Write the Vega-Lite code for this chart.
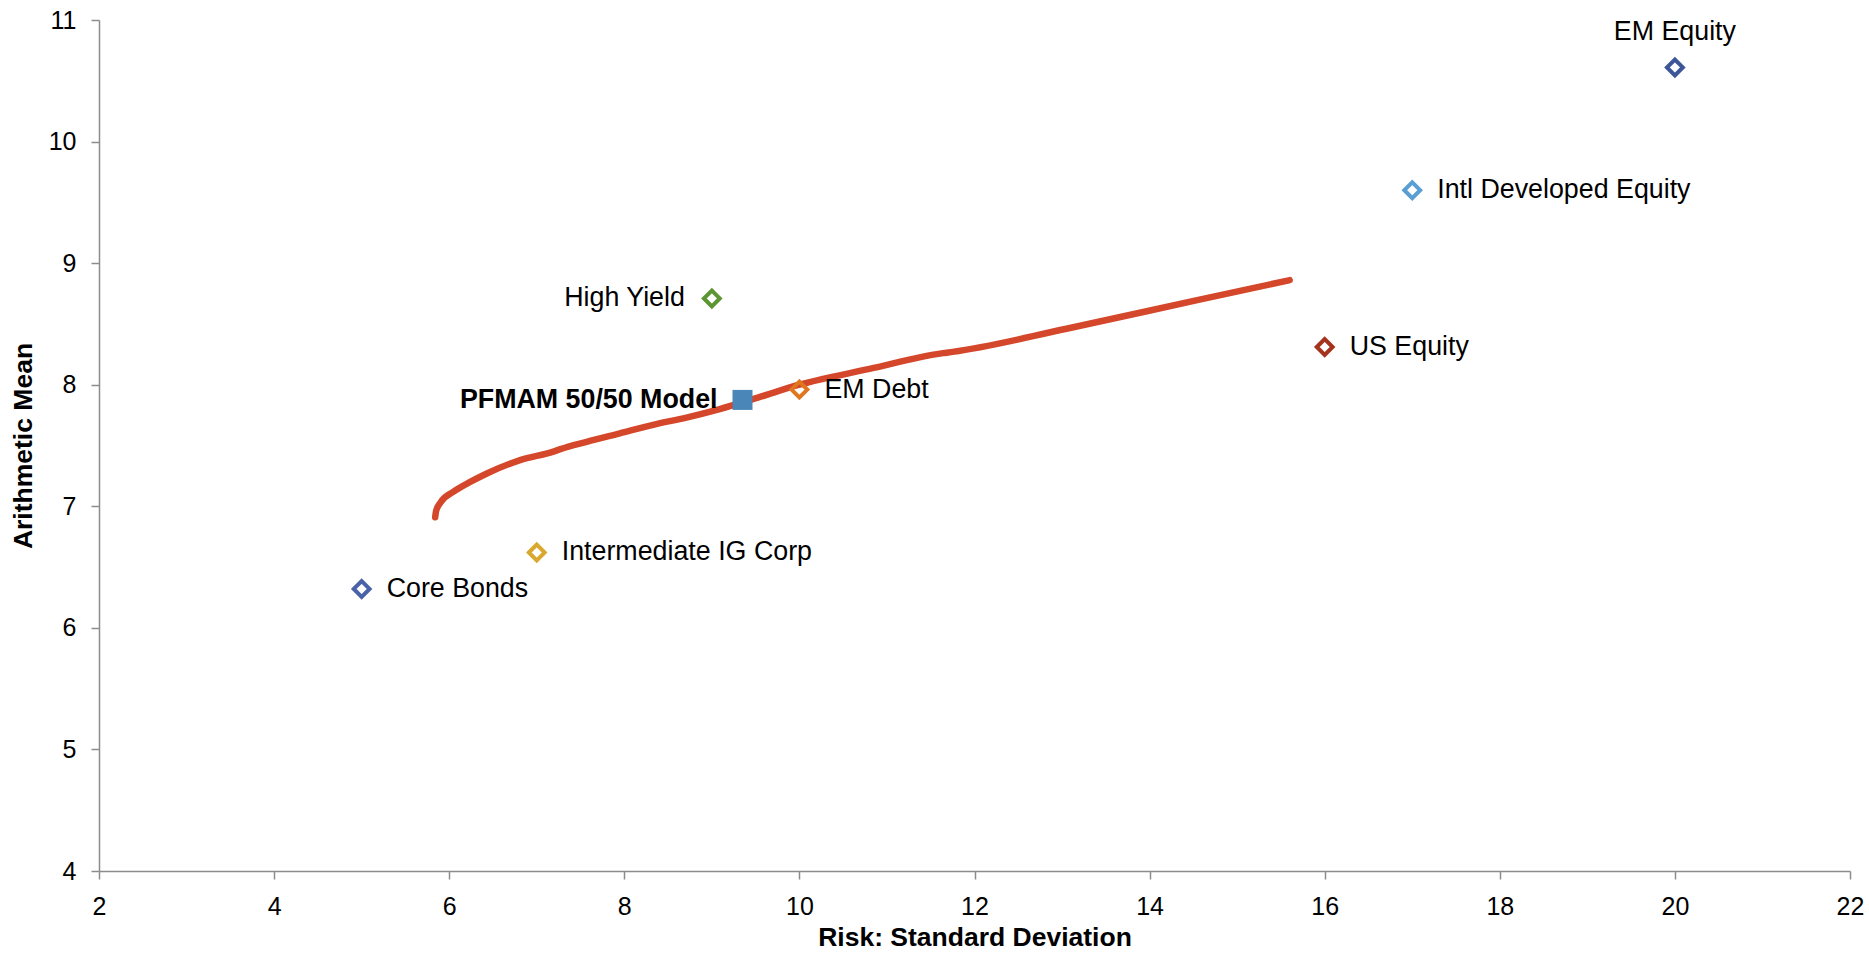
{
  "$schema": "https://vega.github.io/schema/vega-lite/v6.json",
  "width": 1751,
  "height": 851,
  "autosize": {"type": "none"},
  "padding": {"left": 99, "top": 20, "right": 19, "bottom": 82},
  "background": "white",
  "datasets": {
    "assets": [
      {"asset": "EM Equity", "risk": 20, "mean": 10.61},
      {"asset": "Intl Developed Equity", "risk": 17, "mean": 9.6},
      {"asset": "High Yield", "risk": 9, "mean": 8.71},
      {"asset": "US Equity", "risk": 16, "mean": 8.31},
      {"asset": "EM Debt", "risk": 10, "mean": 7.96},
      {"asset": "Intermediate IG Corp", "risk": 7, "mean": 6.62},
      {"asset": "Core Bonds", "risk": 5, "mean": 6.32}
    ],
    "model": [
      {"asset": "PFMAM 50/50 Model", "risk": 9.35, "mean": 7.875}
    ],
    "frontier": [
      {"risk": 5.84, "mean": 6.91},
      {"risk": 5.85, "mean": 6.96},
      {"risk": 5.9, "mean": 7.03},
      {"risk": 6.05, "mean": 7.12},
      {"risk": 6.24, "mean": 7.2},
      {"risk": 6.43, "mean": 7.27},
      {"risk": 6.81, "mean": 7.38},
      {"risk": 7.19, "mean": 7.45},
      {"risk": 7.27, "mean": 7.47},
      {"risk": 7.57, "mean": 7.53},
      {"risk": 7.95, "mean": 7.6},
      {"risk": 8.33, "mean": 7.67},
      {"risk": 8.71, "mean": 7.73},
      {"risk": 9.09, "mean": 7.8},
      {"risk": 9.55, "mean": 7.9},
      {"risk": 10.0, "mean": 8.0},
      {"risk": 10.8, "mean": 8.13},
      {"risk": 11.64, "mean": 8.26},
      {"risk": 11.75, "mean": 8.27},
      {"risk": 13.05, "mean": 8.46},
      {"risk": 14.57, "mean": 8.7},
      {"risk": 15.6, "mean": 8.86}
    ]
  },
  "config": {
    "view": {"stroke": null},
    "font": "Liberation Sans",
    "axis": {
      "grid": false,
      "domainColor": "#8c8c8c",
      "domainWidth": 1.5,
      "tickColor": "#8c8c8c",
      "tickWidth": 1.5,
      "tickSize": 8,
      "labelFont": "Liberation Sans",
      "labelFontSize": 25,
      "labelColor": "#000000",
      "labelPadding": 15,
      "labelFlush": false,
      "labelOverlap": false,
      "titleFont": "Liberation Sans",
      "titleFontSize": 26.5,
      "titleFontWeight": "bold",
      "titleColor": "#000000"
    }
  },
  "encoding": {
    "x": {
      "field": "risk",
      "type": "quantitative",
      "scale": {"domain": [2, 22], "nice": false, "zero": false},
      "axis": {
        "title": "Risk: Standard Deviation",
        "values": [2, 4, 6, 8, 10, 12, 14, 16, 18, 20, 22],
        "titleY": 74,
        "titleBaseline": "alphabetic"
      }
    },
    "y": {
      "field": "mean",
      "type": "quantitative",
      "scale": {"domain": [4, 11], "nice": false, "zero": false},
      "axis": {
        "title": "Arithmetic Mean",
        "values": [4, 5, 6, 7, 8, 9, 10, 11],
        "titleX": -76,
        "titleBaseline": "middle"
      }
    }
  },
  "layer": [
    {
      "data": {"name": "frontier"},
      "mark": {"type": "line", "color": "#d4472b", "strokeWidth": 6.5, "strokeCap": "round", "strokeJoin": "round", "interpolate": "monotone"}
    },
    {
      "data": {"name": "assets"},
      "mark": {"type": "point", "shape": "diamond", "size": 250, "strokeWidth": 4, "filled": false, "opacity": 1},
      "encoding": {
        "color": {
          "field": "asset",
          "type": "nominal",
          "legend": null,
          "scale": {
            "domain": ["EM Equity", "Intl Developed Equity", "High Yield", "US Equity", "EM Debt", "Intermediate IG Corp", "Core Bonds"],
            "range": ["#3d5599", "#5a9fd4", "#5c9632", "#a5321c", "#e0771f", "#d9a82e", "#4a62a8"]
          }
        }
      }
    },
    {
      "data": {"name": "model"},
      "mark": {"type": "square", "size": 400, "color": "#4a86b8", "opacity": 1}
    },
    {
      "data": {"name": "assets"},
      "transform": [{"filter": {"field": "asset", "oneOf": ["Intl Developed Equity", "US Equity", "EM Debt", "Intermediate IG Corp", "Core Bonds"]}}],
      "mark": {"type": "text", "align": "left", "baseline": "middle", "dx": 25, "fontSize": 26.8, "color": "#000000"},
      "encoding": {"text": {"field": "asset"}}
    },
    {
      "data": {"name": "assets"},
      "transform": [{"filter": {"field": "asset", "equal": "High Yield"}}],
      "mark": {"type": "text", "align": "right", "baseline": "middle", "dx": -27, "fontSize": 26.8, "color": "#000000"},
      "encoding": {"text": {"field": "asset"}}
    },
    {
      "data": {"name": "assets"},
      "transform": [{"filter": {"field": "asset", "equal": "EM Equity"}}],
      "mark": {"type": "text", "align": "center", "baseline": "middle", "dy": -35, "fontSize": 26.8, "color": "#000000"},
      "encoding": {"text": {"field": "asset"}}
    },
    {
      "data": {"name": "model"},
      "mark": {"type": "text", "align": "right", "baseline": "middle", "dx": -25, "fontSize": 26.8, "fontWeight": "bold", "color": "#000000"},
      "encoding": {"text": {"field": "asset"}}
    }
  ]
}
